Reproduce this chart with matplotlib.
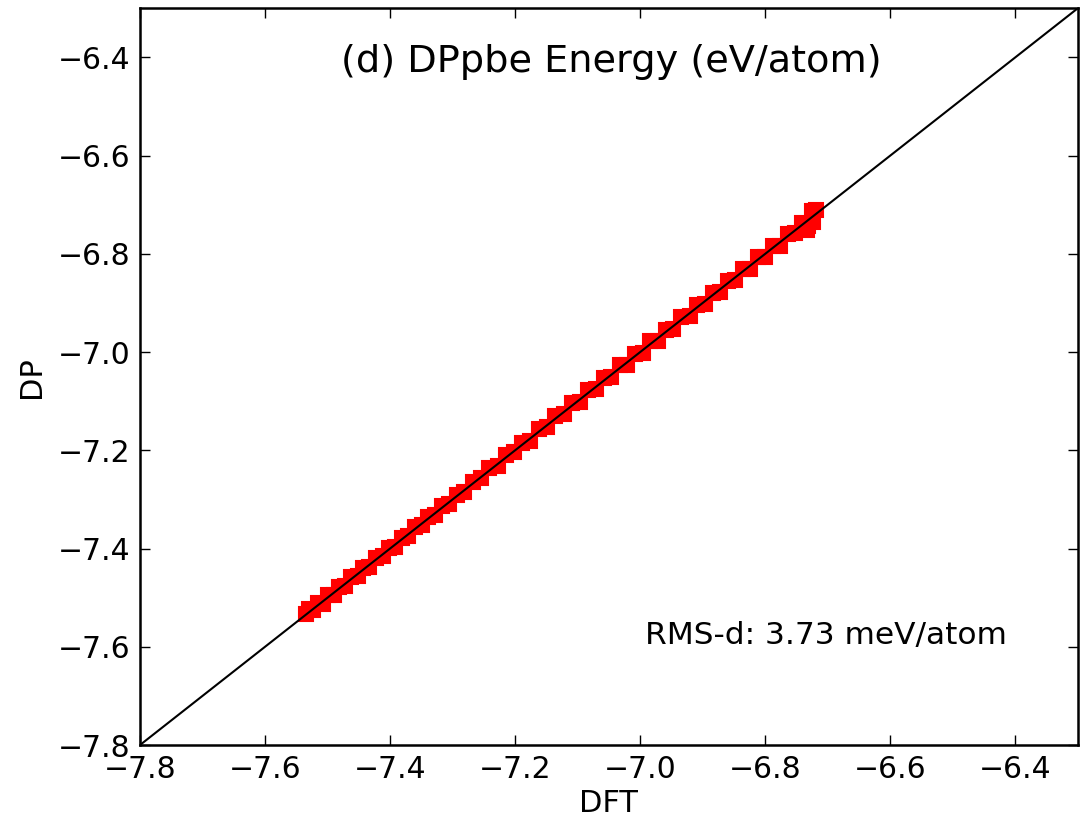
import numpy as np
import matplotlib.pyplot as plt

# ---------------- data ----------------
dft = [-7.535, -7.530, -7.524, -7.516, -7.508, -7.499, -7.490, -7.481, -7.472, -7.462,
       -7.452, -7.443, -7.433, -7.423, -7.412, -7.402, -7.392, -7.381, -7.371, -7.360,
       -7.349, -7.339, -7.328, -7.317, -7.305, -7.293, -7.281, -7.268, -7.254, -7.241,
       -7.228, -7.214, -7.201, -7.189, -7.176, -7.162, -7.149, -7.136, -7.122, -7.109,
       -7.096, -7.083, -7.071, -7.058, -7.046, -7.033, -7.021, -7.009, -6.996, -6.984,
       -6.971, -6.959, -6.947, -6.934, -6.921, -6.909, -6.897, -6.884, -6.872, -6.860,
       -6.848, -6.836, -6.824, -6.812, -6.800, -6.788, -6.776, -6.764, -6.752, -6.741,
       -6.731, -6.725, -6.718, -6.733, -6.724]
dp = [-7.533, -7.524, -7.526, -7.511, -7.512, -7.495, -7.494, -7.478, -7.476, -7.458,
      -7.456, -7.440, -7.437, -7.420, -7.416, -7.398, -7.396, -7.378, -7.375, -7.356,
      -7.352, -7.336, -7.331, -7.314, -7.309, -7.290, -7.284, -7.265, -7.257, -7.237,
      -7.231, -7.210, -7.204, -7.185, -7.181, -7.157, -7.153, -7.131, -7.127, -7.104,
      -7.101, -7.078, -7.076, -7.053, -7.051, -7.027, -7.026, -7.003, -7.002, -6.978,
      -6.977, -6.954, -6.953, -6.929, -6.927, -6.904, -6.902, -6.879, -6.877, -6.855,
      -6.854, -6.831, -6.830, -6.806, -6.806, -6.784, -6.783, -6.760, -6.757, -6.738,
      -6.744, -6.712, -6.711, -6.752, -6.735]
lims = [-7.8, -6.3]
ticks = [-7.8, -7.6, -7.4, -7.2, -7.0, -6.8, -6.6, -6.4]

# ---------------- plot ----------------
fig = plt.figure(figsize=(10.81, 8.30), dpi=100)
ax = fig.add_axes([0.1295, 0.1024, 0.8675, 0.8876])
ax.plot(dft, dp, 's', color='r', mec='r', ms=10, mew=1.5, zorder=2)
ax.plot(lims, lims, '-k', lw=1.5, zorder=3)
ax.set_xlim(lims); ax.set_ylim(lims)
ax.set_xticks(ticks); ax.set_yticks(ticks)
fmt = plt.FuncFormatter(lambda v, p: f"{v:.1f}".replace('-', '\u2212'))
ax.xaxis.set_major_formatter(fmt)
ax.yaxis.set_major_formatter(fmt)
ax.tick_params(direction='in', top=True, right=True, length=7, width=1, labelsize=21.5, pad=7)
for axis in ['top', 'bottom', 'left', 'right']:
    ax.spines[axis].set_linewidth(1.8)
ax.set_xlabel("DFT", fontsize=22, labelpad=4)
ax.set_ylabel("DP", fontsize=22, labelpad=8)
ax.text(0.503, 0.927, "(d) DPpbe Energy (eV/atom)", transform=ax.transAxes,
        ha='center', va='center', fontsize=27.5)
ax.text(0.538, 0.148, "RMS-d: 3.73 meV/atom", transform=ax.transAxes,
        ha='left', va='center', fontsize=22.5)
fig.savefig('out.png', dpi=100)
